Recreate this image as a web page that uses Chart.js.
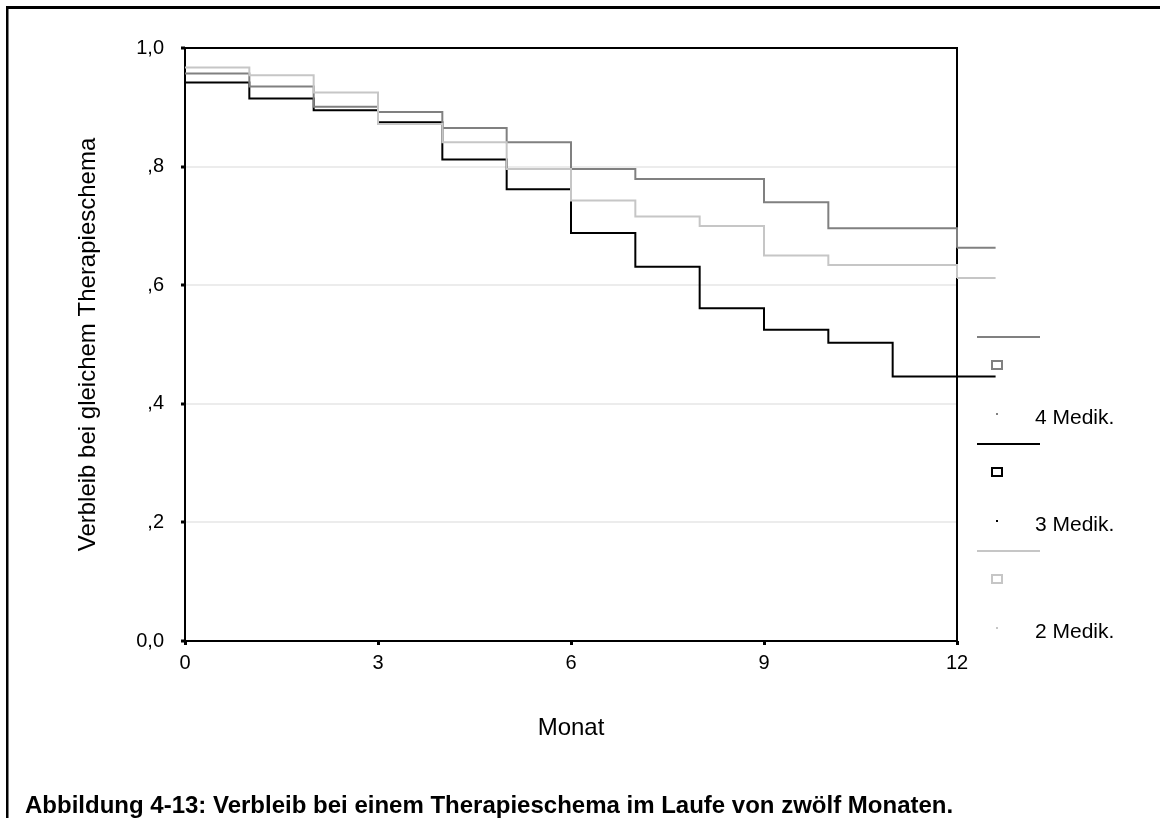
<!DOCTYPE html>
<html>
<head>
<meta charset="utf-8">
<script src="https://cdn.jsdelivr.net/npm/chart.js@4/dist/chart.umd.min.js"></script>
<style>
  html, body { margin: 0; padding: 0; background: #fff; }
  #wrap { width: 1160px; height: 818px; position: relative; }
</style>
</head>
<body>
<div id="wrap"><canvas id="kmChart"></canvas></div>
<script>
// Werte (Monat, Anteil)
const months = [0, 1, 2, 3, 4, 5, 6, 7, 8, 9, 10, 11, 12];
const censorEnd = 12.6; // letzte Beobachtung, rechts außerhalb der Achse
const med4 = [0.957, 0.935, 0.901, 0.892, 0.865, 0.841, 0.796, 0.779, 0.779, 0.740, 0.696, 0.696, 0.663];
const med3 = [0.942, 0.915, 0.895, 0.875, 0.812, 0.762, 0.688, 0.631, 0.561, 0.525, 0.503, 0.446, 0.446];
const med2 = [0.967, 0.954, 0.925, 0.872, 0.841, 0.796, 0.743, 0.716, 0.700, 0.650, 0.634, 0.634, 0.612];

const seriesLabels = ['4 Medik.', '3 Medik.', '2 Medik.'];
const seriesColors = ['#808080', '#000000', '#c6c6c6'];
const xTicks = [0, 3, 6, 9, 12];
const yTicks = [0, 0.2, 0.4, 0.6, 0.8, 1.0];

const FONT = "'Liberation Sans', Arial, sans-serif";
Chart.defaults.font.family = FONT;
Chart.defaults.color = '#000';

function toPoints(vals) {
    return months.map((m, i) => ({ x: m, y: vals[i] }));
}

// deutsches Format wie im SPSS-Output: 1,0 / ,8 / ... / 0,0
function yLabel(v) {
    if (v === 0) return '0,0';
    if (v >= 1) return '1,0';
    return ',' + Math.round(v * 10);
}

// äußerer Rahmen (oben + links)
const pageFrame = {
    id: 'pageFrame',
    beforeDraw(chart) {
        const ctx = chart.ctx;
        ctx.save();
        ctx.fillStyle = '#000';
        ctx.fillRect(6, 6, 1154, 3);
        ctx.fillRect(6, 6, 2.5, 812);
        ctx.restore();
    }
};

// Rahmen um den Plotbereich, unter den Kurven
const plotFrame = {
    id: 'plotFrame',
    beforeDatasetsDraw(chart) {
        const a = chart.chartArea;
        const ctx = chart.ctx;
        ctx.save();
        ctx.strokeStyle = '#000';
        ctx.lineWidth = 2;
        ctx.strokeRect(a.left, a.top, a.right - a.left, a.bottom - a.top);
        ctx.restore();
    },
    // Kurvenende nach Monat 12 (liegt außerhalb der x-Achse)
    afterDatasetsDraw(chart) {
        const ctx = chart.ctx;
        const xs = chart.scales.x, ys = chart.scales.y;
        ctx.save();
        for (let i = chart.data.datasets.length - 1; i >= 0; i--) {
            const ds = chart.data.datasets[i];
            const last = ds.data[ds.data.length - 1];
            const y = ys.getPixelForValue(last.y);
            ctx.strokeStyle = ds.borderColor;
            ctx.lineWidth = ds.borderWidth;
            ctx.beginPath();
            ctx.moveTo(xs.getPixelForValue(last.x), y);
            ctx.lineTo(xs.getPixelForValue(censorEnd), y);
            ctx.stroke();
        }
        ctx.restore();
    }
};

// Legende im SPSS-Stil + Bildunterschrift
const spssLegend = {
    id: 'spssLegend',
    afterDraw(chart) {
        const ctx = chart.ctx;
        ctx.save();
        seriesLabels.forEach((lab, i) => {
            const base = 337 + i * 107;
            const col = seriesColors[i];
            ctx.strokeStyle = col;
            ctx.lineWidth = 2;
            ctx.beginPath();
            ctx.moveTo(977, base);
            ctx.lineTo(1040, base);
            ctx.stroke();
            ctx.strokeRect(992, base + 24, 10, 8);
            ctx.fillStyle = col;
            ctx.fillRect(996, base + 76, 2, 2);
            ctx.fillStyle = '#000';
            ctx.font = '21px ' + FONT;
            ctx.textAlign = 'left';
            ctx.textBaseline = 'middle';
            ctx.fillText(lab, 1035, base + 81);
        });
        ctx.font = 'bold 24px ' + FONT;
        ctx.textAlign = 'left';
        ctx.textBaseline = 'alphabetic';
        ctx.fillStyle = '#000';
        ctx.fillText('Abbildung 4-13: Verbleib bei einem Therapieschema im Laufe von zwölf Monaten.', 25, 813);
        ctx.restore();
    }
};

const ctx = document.getElementById('kmChart').getContext('2d');
new Chart(ctx, {
    type: 'line',
    data: {
        datasets: [
            { label: seriesLabels[2], data: toPoints(med2), borderColor: seriesColors[2] },
            { label: seriesLabels[0], data: toPoints(med4), borderColor: seriesColors[0] },
            { label: seriesLabels[1], data: toPoints(med3), borderColor: seriesColors[1] }
        ].map(d => Object.assign(d, {
            stepped: true,
            borderWidth: 2,
            pointRadius: 0,
            fill: false,
            clip: false
        }))
    },
    options: {
        responsive: true,
        maintainAspectRatio: false,
        animation: false,
        layout: { padding: { left: 0, top: 48, right: 203, bottom: 0 } },
        plugins: {
            legend: { display: false },
            tooltip: { enabled: false }
        },
        scales: {
            x: {
                type: 'linear',
                min: 0,
                max: 12,
                afterBuildTicks(scale) { scale.ticks = xTicks.map(v => ({ value: v })); },
                afterFit(scale) { scale.height = 177; },
                border: { display: false },
                grid: {
                    drawOnChartArea: false,
                    drawTicks: true,
                    tickLength: 4,
                    tickWidth: 3,
                    tickColor: '#000'
                },
                ticks: { padding: 6, font: { size: 20 }, color: '#000', maxRotation: 0 },
                title: {
                    display: true,
                    text: 'Monat',
                    font: { size: 24 },
                    color: '#000',
                    padding: { top: 0, bottom: 75 }
                }
            },
            y: {
                min: 0,
                max: 1,
                afterBuildTicks(scale) { scale.ticks = yTicks.map(v => ({ value: v })); },
                afterFit(scale) { scale.width = 185; },
                border: { display: false },
                grid: {
                    color: c => (c.tick && c.tick.value > 0.01 && c.tick.value < 0.99) ? '#ececec' : 'rgba(0,0,0,0)',
                    lineWidth: 2,
                    drawTicks: true,
                    tickLength: 4,
                    tickWidth: 3,
                    tickColor: '#000'
                },
                ticks: {
                    padding: 17,
                    font: { size: 20 },
                    color: '#000',
                    callback: v => yLabel(v)
                },
                title: {
                    display: true,
                    text: 'Verbleib bei gleichem Therapieschema',
                    font: { size: 24 },
                    color: '#000',
                    padding: { top: 74, bottom: 0 }
                }
            }
        }
    },
    plugins: [pageFrame, plotFrame, spssLegend]
});
</script>
</body>
</html>
